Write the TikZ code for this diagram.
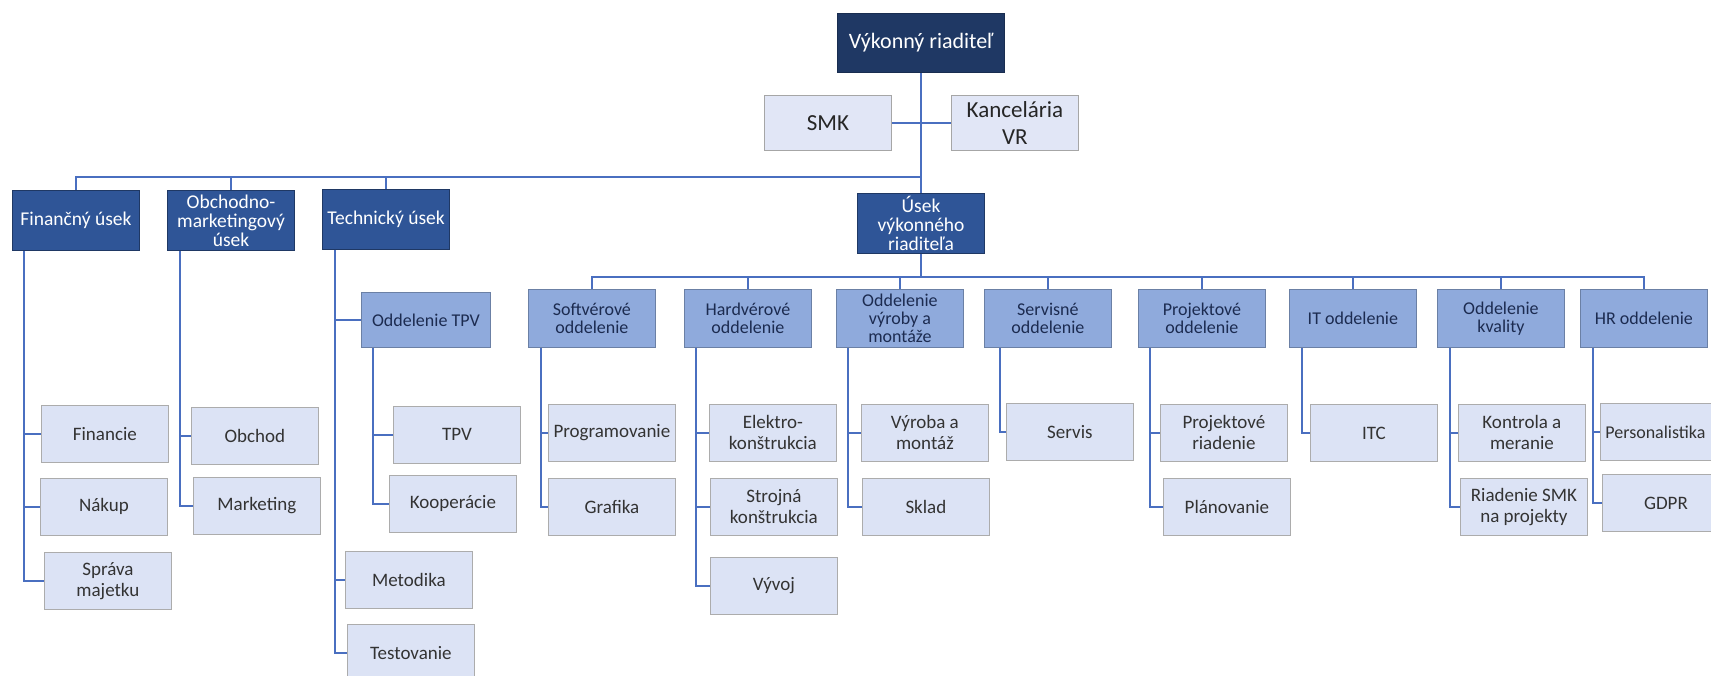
\documentclass[tikz,border=0pt]{standalone}
\usepackage{fontspec}
\setmainfont{Carlito}
\definecolor{ceoC}{HTML}{1F3864}
\definecolor{loneC}{HTML}{2F5597}
\definecolor{ltwoC}{HTML}{8FAADC}
\definecolor{lthreeC}{HTML}{DCE3F5}
\definecolor{sideC}{HTML}{E1E6F6}
\definecolor{lineC}{HTML}{4A6FC0}
\definecolor{navyT}{HTML}{1C2B50}
\begin{document}
\begin{tikzpicture}[x=1pt,y=-1pt,
  box/.style={rectangle, inner sep=0pt, align=center, anchor=north west},
  ceobox/.style={box, fill=ceoC, draw=ceoC!80!black, line width=1pt, text=white,
     minimum width=167pt, minimum height=59pt, font=\fontsize{22}{26}\selectfont},
  sidebox/.style={box, fill=sideC, draw=gray!70, line width=0.8pt, text=black!85,
     minimum width=127pt, minimum height=55pt, font=\fontsize{23}{27}\selectfont},
  lonebox/.style={box, fill=loneC, draw=ceoC, line width=1pt, text=white,
     minimum width=127pt, minimum height=60pt, font=\fontsize{19.5}{19}\selectfont},
  ltwobox/.style={box, fill=ltwoC, draw=ltwoC!75!black, line width=0.8pt, text=navyT,
     minimum width=127pt, minimum height=58pt, font=\fontsize{18}{18}\selectfont},
  lthreebox/.style={box, fill=lthreeC, draw=gray!65, line width=0.8pt, text=black!80,
     minimum width=127pt, minimum height=57pt, font=\fontsize{19}{21}\selectfont},
  conn/.style={draw=lineC, line width=2.2pt},
]
\useasboundingbox (0,0) rectangle (1711,676);
\clip (0,0) rectangle (1711,676);
\fill[white] (0,0) rectangle (1711,676);

% top
\node[ceobox] (ceo) at (837,13) {Výkonný riaditeľ};
\node[sidebox] (smk) at (764,95) {SMK};
\node[sidebox] (kanc) at (951,95) {Kancelária\\VR};

% level 1
\node[lonebox] (fin) at (12,190) {Finančný úsek};
\node[lonebox] (obch) at (167,190) {Obchodno-\\marketingový\\úsek};
\node[lonebox] (tech) at (322,189) {Technický úsek};
\node[lonebox] (usek) at (857,193) {Úsek\\výkonného\\riaditeľa};

% level 2
\node[ltwobox] (sw) at (528,289) {Softvérové\\oddelenie};
\node[ltwobox] (hw) at (684,289) {Hardvérové\\oddelenie};
\node[ltwobox] (vyr) at (836,289) {Oddelenie\\výroby a\\montáže};
\node[ltwobox] (serv) at (984,289) {Servisné\\oddelenie};
\node[ltwobox] (proj) at (1138,289) {Projektové\\oddelenie};
\node[ltwobox] (it) at (1289,289) {IT oddelenie};
\node[ltwobox] (kval) at (1437,289) {Oddelenie\\kvality};
\node[ltwobox] (hr) at (1580,289) {HR oddelenie};
\node[ltwobox, minimum width=129pt, minimum height=55pt] (otpv) at (361,292) {Oddelenie TPV};

% level 3 - left
\node[lthreebox] (financie) at (41,405) {Financie};
\node[lthreebox] (nakup) at (40,478) {Nákup};
\node[lthreebox] (sprava) at (44,552) {Správa\\majetku};
\node[lthreebox] (obchod) at (191,407) {Obchod};
\node[lthreebox] (marketing) at (193,477) {Marketing};
\node[lthreebox] (tpv) at (393,406) {TPV};
\node[lthreebox] (kooper) at (389,475) {Kooperácie};
\node[lthreebox] (metodika) at (345,551) {Metodika};
\node[lthreebox] (testovanie) at (347,624) {Testovanie};

% level 3 - right
\node[lthreebox] (prog) at (548,404) {Programovanie};
\node[lthreebox] (grafika) at (548,478) {Grafika};
\node[lthreebox] (elektro) at (709,404) {Elektro-\\konštrukcia};
\node[lthreebox] (strojna) at (710,478) {Strojná\\konštrukcia};
\node[lthreebox] (vyvoj) at (710,557) {Vývoj};
\node[lthreebox] (vyroba) at (861,404) {Výroba a\\montáž};
\node[lthreebox] (sklad) at (862,478) {Sklad};
\node[lthreebox] (servis) at (1006,403) {Servis};
\node[lthreebox] (projr) at (1160,404) {Projektové\\riadenie};
\node[lthreebox] (plan) at (1163,478) {Plánovanie};
\node[lthreebox] (itc) at (1310,404) {ITC};
\node[lthreebox] (kontrola) at (1458,404) {Kontrola a\\meranie};
\node[lthreebox] (riadsmk) at (1460,478) {Riadenie SMK\\na projekty};
\node[lthreebox, font=\fontsize{18}{21}\selectfont] (person) at (1600,403) {Personalistika\hspace*{17pt}};
\node[lthreebox] (gdpr) at (1602,474) {GDPR};

% buses
\coordinate (busA) at (921,177);
\coordinate (busB) at (921,277);

\draw[conn] (ceo.south) -- (usek.north);
\draw[conn] (smk.east) -- (kanc.west);
\draw[conn] (fin.north) |- (busA);
\draw[conn] (obch.north) |- (busA);
\draw[conn] (tech.north) |- (busA);
\draw[conn] (usek.south) -- (busB);
\draw[conn] (sw.north) |- (busB);
\draw[conn] (hw.north) |- (busB);
\draw[conn] (vyr.north) |- (busB);
\draw[conn] (serv.north) |- (busB);
\draw[conn] (proj.north) |- (busB);
\draw[conn] (it.north) |- (busB);
\draw[conn] (kval.north) |- (busB);
\draw[conn] (hr.north) |- (busB);

% left branches
\draw[conn] ([xshift=12pt]fin.south west) |- (sprava.west);
\draw[conn] ([xshift=12pt]fin.south west) |- (financie.west);
\draw[conn] ([xshift=12pt]fin.south west) |- (nakup.west);
\draw[conn] ([xshift=13pt]obch.south west) |- (marketing.west);
\draw[conn] ([xshift=13pt]obch.south west) |- (obchod.west);
\draw[conn] ([xshift=13pt]tech.south west) |- (testovanie.west);
\draw[conn] ([xshift=13pt]tech.south west) |- (otpv.west);
\draw[conn] ([xshift=13pt]tech.south west) |- (metodika.west);
\draw[conn] ([xshift=12pt]otpv.south west) |- (kooper.west);
\draw[conn] ([xshift=12pt]otpv.south west) |- (tpv.west);

% right branches
\draw[conn] ([xshift=13pt]sw.south west) |- (grafika.west);
\draw[conn] ([xshift=13pt]sw.south west) |- (prog.west);
\draw[conn] ([xshift=12pt]hw.south west) |- (vyvoj.west);
\draw[conn] ([xshift=12pt]hw.south west) |- (elektro.west);
\draw[conn] ([xshift=12pt]hw.south west) |- (strojna.west);
\draw[conn] ([xshift=12pt]vyr.south west) |- (sklad.west);
\draw[conn] ([xshift=12pt]vyr.south west) |- (vyroba.west);
\draw[conn] ([xshift=16pt]serv.south west) |- (servis.west);
\draw[conn] ([xshift=12pt]proj.south west) |- (plan.west);
\draw[conn] ([xshift=12pt]proj.south west) |- (projr.west);
\draw[conn] ([xshift=13pt]it.south west) |- (itc.west);
\draw[conn] ([xshift=13pt]kval.south west) |- (riadsmk.west);
\draw[conn] ([xshift=13pt]kval.south west) |- (kontrola.west);
\draw[conn] ([xshift=13pt]hr.south west) |- (gdpr.west);
\draw[conn] ([xshift=13pt]hr.south west) |- (person.west);
\end{tikzpicture}
\end{document}
